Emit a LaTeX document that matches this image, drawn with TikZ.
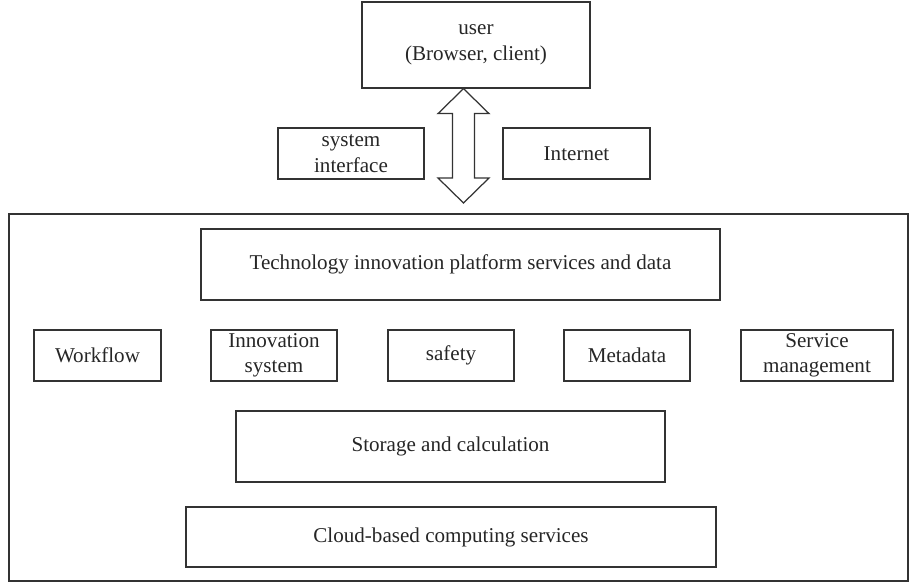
\documentclass[tikz,border=0pt]{standalone}
\usepackage{fontspec}
\setmainfont{Liberation Serif}
\usetikzlibrary{calc}

\tikzset{
  box/.style={draw=black!80, line width=0.7pt, align=center, inner sep=0pt,
    font=\fontsize{12}{14.5}\selectfont, text=black!85},
}

\begin{document}
\begin{tikzpicture}[x=0.02cm, y=-0.02cm]
    \useasboundingbox (0,0) rectangle (910,584);

    % client side
    \node[box, minimum width=4.56cm, minimum height=1.72cm] (user) at (476,45) {user\\(Browser, client)};
    \node[box, minimum width=2.92cm, minimum height=1.02cm] (sysif) at (351,153.5) {system\\interface};
    \node[box, minimum width=2.94cm, minimum height=1.02cm] (inet) at (576.5,153.5) {Internet};

    % platform frame
    \draw[black!80, line width=0.7pt] (9,214) rectangle (908,581);

    \node[box, minimum width=10.38cm, minimum height=1.42cm] (tips) at (460.5,264.5) {Technology innovation platform services and data};

    \node[box, minimum width=2.54cm, minimum height=1.02cm] (wf) at (97.5,355.5) {Workflow};
    \node[box, minimum width=2.52cm, minimum height=1.02cm] (innov) at (274,355.5) {Innovation\\system};
    \node[box, minimum width=2.52cm, minimum height=1.02cm] (safe) at (451,355.5) {safety};
    \node[box, minimum width=2.52cm, minimum height=1.02cm] (meta) at (627,355.5) {Metadata};
    \node[box, minimum width=3.04cm, minimum height=1.02cm] (smgmt) at (817,355.5) {Service\\management};

    \node[box, minimum width=8.58cm, minimum height=1.42cm] (store) at (450.5,446.5) {Storage and calculation};
    \node[box, minimum width=10.6cm, minimum height=1.2cm] (cloud) at (451,537) {Cloud-based computing services};

    % two-way block arrow between user and platform
    \coordinate (up) at (user.south -| 463.5,0);
    \coordinate (down) at (463.5,203);
    \draw[black!80, line width=0.7pt, line join=miter]
      (up) -- ++(25.5,25) -- ++(-14.5,0) -- ($(down)+(11,-25)$) -- ++(14.5,0)
      -- (down) -- ++(-25.5,-25) -- ++(14.5,0) -- ($(up)+(-11,25)$) -- ++(-14.5,0) -- cycle;
\end{tikzpicture}
\end{document}
